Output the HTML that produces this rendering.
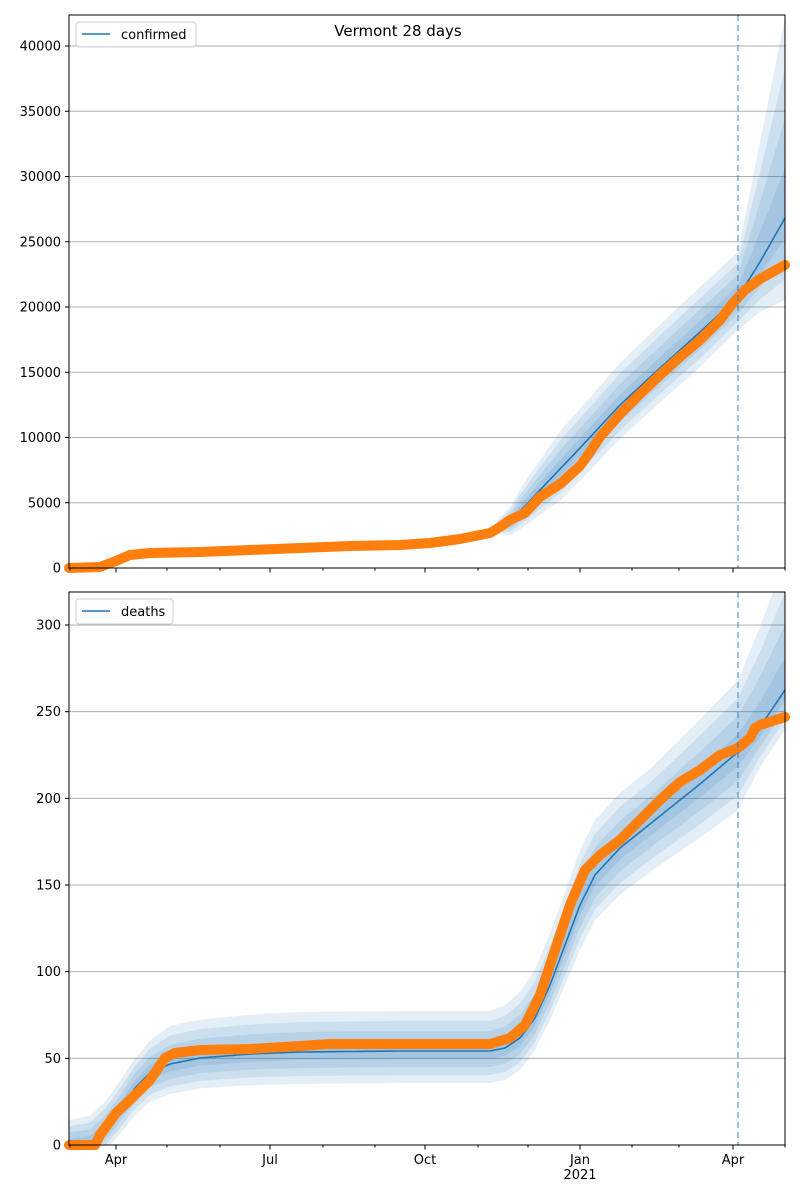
<!DOCTYPE html>
<html><head><meta charset="utf-8"><style>
body{margin:0;background:#fff}
svg{display:block;font-family:"DejaVu Sans","Liberation Sans",sans-serif}
</style></head><body>
<svg id="s" width="800" height="1200" viewBox="0 0 800 1200" xmlns="http://www.w3.org/2000/svg">
<rect width="800" height="1200" fill="#fff"/>
<g id="g1"></g>
<g id="g2"></g>
<text x="398" y="36" font-size="15" text-anchor="middle">Vermont 28 days</text>
</svg>
<script>
const NS="http://www.w3.org/2000/svg";
function el(p,t,a){const e=document.createElementNS(NS,t);for(const k in a)e.setAttribute(k,a[k]);p.appendChild(e);return e;}
function interp(pts,x){for(let i=0;i<pts.length-1;i++){if(x>=pts[i][0]&&x<=pts[i+1][0]){const t=(x-pts[i][0])/(pts[i+1][0]-pts[i][0]);return pts[i][1]+t*(pts[i+1][1]-pts[i][1]);}}return pts[pts.length-1][1];}
function path(a){return a.map((p,i)=>(i?'L':'M')+p[0].toFixed(1)+','+p[1].toFixed(1)).join('');}
function panel(g,top,bot,ymax,ylabels,label,model,obs,spreadTop,spreadBot,xStart,showX){
  const L=69,R=785;
  ylabels.forEach(v=>{const y=bot-(v/ymax)*(bot-top);
    el(g,'line',{x1:L,x2:R,y1:y,y2:y,stroke:'#b0b0b0','stroke-width':1});
    el(g,'line',{x1:L-4,x2:L,y1:y,y2:y,stroke:'#000'});
    const t=el(g,'text',{x:L-8,y:y+4.5,'font-size':13,'text-anchor':'end'});t.textContent=v;});
  const xs=[];for(let x=xStart;x<=R;x+=2)xs.push(x);if(xs[xs.length-1]!==R)xs.push(R);
  [1,0.75,0.5,0.25].forEach(f=>{
    const up=xs.map(x=>[x,Math.max(top,interp(model,x)-f*interp(spreadTop,x))]);
    const dn=xs.map(x=>[x,Math.min(bot,interp(model,x)+f*interp(spreadBot,x))]).reverse();
    el(g,'path',{d:path(up.concat(dn))+'Z',fill:'rgba(31,119,180,0.12)'});
  });
  el(g,'path',{d:path(xs.map(x=>[x,interp(model,x)])),fill:'none',stroke:'#1f77b4','stroke-width':1.6});
  el(g,'path',{d:path(obs),fill:'none',stroke:'#ff7f0e','stroke-width':10,'stroke-linecap':'round','stroke-linejoin':'round'});
  el(g,'line',{x1:738,x2:738,y1:top,y2:bot,stroke:'#1f77b4','stroke-opacity':0.55,'stroke-width':1.6,'stroke-dasharray':'6,4'});
  el(g,'rect',{x:L,y:top,width:R-L,height:bot-top,fill:'none',stroke:'#000','stroke-width':1});
  [70,116,167,220,270,323,375,425,478,528,580,632,679,733,785].forEach(x=>el(g,'line',{x1:x,x2:x,y1:bot,y2:bot+2.5,stroke:'#000'}));
  [116,270,425,580,733].forEach(x=>el(g,'line',{x1:x,x2:x,y1:bot,y2:bot+4.5,stroke:'#000'}));
  if(showX){[[116,'Apr'],[270,'Jul'],[425,'Oct'],[580,'Jan'],[733,'Apr']].forEach(([x,s])=>{const t=el(g,'text',{x:x,y:bot+19,'font-size':13,'text-anchor':'middle'});t.textContent=s;});
    const t=el(g,'text',{x:580,y:bot+34,'font-size':13,'text-anchor':'middle'});t.textContent='2021';}
  const w=label==='confirmed'?120:97;
  el(g,'rect',{x:76,y:top+7,width:w,height:25,rx:3,fill:'#fff','fill-opacity':0.8,stroke:'#ccc'});
  el(g,'line',{x1:82,x2:110,y1:top+19,y2:top+19,stroke:'#1f77b4','stroke-width':1.6});
  const t=el(g,'text',{x:121,y:top+24,'font-size':13});t.textContent=label;
}
const G1=document.getElementById('g1'),G2=document.getElementById('g2');
panel(G1,15,568,40000*553/522,[0,5000,10000,15000,20000,25000,30000,35000,40000],'confirmed',
 [[495,528],[510,522],[540,490],[580,448],[620,405],[660,368],[700,332],[738,297],[760,262],[785,218]],
 [[69,568],[100,567],[116,561],[130,555],[150,553],[200,552],[250,550],[300,548],[350,546],[400,545],[430,543],[460,539],[490,533],[500,527],[510,520],[525,513],[540,497],[560,484],[580,466],[590,452],[600,437],[620,414],[640,394],[660,375],[680,357],[700,340],[720,320],[733,303],[745,290],[760,279],[785,265]],
 [[495,5],[520,22],[560,38],[620,42],[700,45],[738,45],[760,120],[785,200]],
 [[495,5],[520,18],[560,32],[620,34],[700,35],[738,33],[760,50],[785,82]],495,false);
panel(G2,592,1145,300*553/520,[0,50,100,150,200,250,300],'deaths',
 [[69,1145],[90,1143],[105,1130],[120,1110],[135,1088],[150,1073],[170,1064],[200,1058],[250,1054],[300,1052],[400,1051],[490,1051],[505,1048],[520,1038],[535,1018],[550,985],[565,945],[580,905],[595,875],[620,848],[660,816],[700,784],[738,752],[760,727],[785,690]],
 [[69,1145],[95,1145],[100,1135],[116,1113],[130,1100],[150,1080],[165,1058],[175,1053],[200,1050],[250,1049],[300,1046],[330,1044],[400,1044],[490,1044],[510,1038],[525,1025],[540,995],[555,950],[570,905],[585,870],[600,855],[620,840],[640,820],[660,800],[680,782],[700,770],[720,755],[738,748],[750,738],[755,728],[760,725],[785,717]],
 [[69,25],[100,28],[140,30],[170,38],[300,40],[490,40],[540,50],[580,55],[650,55],[738,72],[760,100],[785,130]],
 [[69,0],[100,20],[140,28],[170,30],[300,32],[490,32],[540,32],[580,45],[650,48],[738,58],[760,40],[785,40]],69,true);
</script>
</body></html>
